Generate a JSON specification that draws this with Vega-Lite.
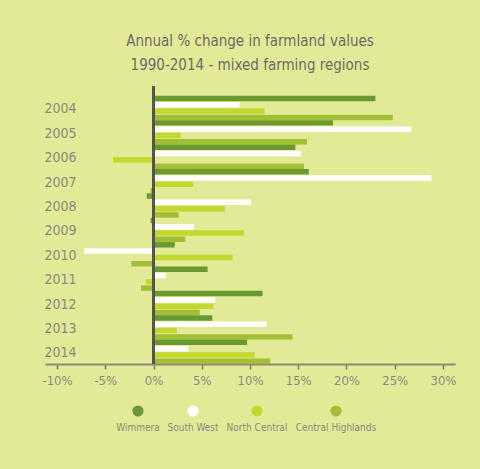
{
  "$schema": "https://vega.github.io/schema/vega-lite/v6.json",
  "autosize": "none",
  "width": 410,
  "height": 278,
  "padding": {"left": 45, "top": 86, "right": 25, "bottom": 105},
  "background": "#e3ea97",
  "config": {"view": {"stroke": null}, "font": "DejaVu Sans Condensed, Roboto Condensed, Liberation Sans Narrow, Roboto"},
  "title": {
    "text": ["Annual % change in farmland values", "1990-2014 - mixed farming regions"],
    "fontSize": 15, "fontWeight": "normal", "color": "#6b6b68", "anchor": "middle", "offset": 12, "lineHeight": 24
  },
  "data": {"values": [
    {"year": "2004", "region": "Wimmera", "value": 23.0},
    {"year": "2004", "region": "South West", "value": 8.9},
    {"year": "2004", "region": "North Central", "value": 11.5},
    {"year": "2004", "region": "Central Highlands", "value": 24.8},
    {"year": "2005", "region": "Wimmera", "value": 18.6},
    {"year": "2005", "region": "South West", "value": 26.7},
    {"year": "2005", "region": "North Central", "value": 2.8},
    {"year": "2005", "region": "Central Highlands", "value": 15.9},
    {"year": "2006", "region": "Wimmera", "value": 14.7},
    {"year": "2006", "region": "South West", "value": 15.3},
    {"year": "2006", "region": "North Central", "value": -4.2},
    {"year": "2006", "region": "Central Highlands", "value": 15.6},
    {"year": "2007", "region": "Wimmera", "value": 16.1},
    {"year": "2007", "region": "South West", "value": 28.8},
    {"year": "2007", "region": "North Central", "value": 4.1},
    {"year": "2007", "region": "Central Highlands", "value": -0.3},
    {"year": "2008", "region": "Wimmera", "value": -0.7},
    {"year": "2008", "region": "South West", "value": 10.1},
    {"year": "2008", "region": "North Central", "value": 7.4},
    {"year": "2008", "region": "Central Highlands", "value": 2.6},
    {"year": "2009", "region": "Wimmera", "value": -0.3},
    {"year": "2009", "region": "South West", "value": 4.2},
    {"year": "2009", "region": "North Central", "value": 9.4},
    {"year": "2009", "region": "Central Highlands", "value": 3.3},
    {"year": "2010", "region": "Wimmera", "value": 2.2},
    {"year": "2010", "region": "South West", "value": -7.2},
    {"year": "2010", "region": "North Central", "value": 8.2},
    {"year": "2010", "region": "Central Highlands", "value": -2.3},
    {"year": "2011", "region": "Wimmera", "value": 5.6},
    {"year": "2011", "region": "South West", "value": 1.3},
    {"year": "2011", "region": "North Central", "value": -0.8},
    {"year": "2011", "region": "Central Highlands", "value": -1.3},
    {"year": "2012", "region": "Wimmera", "value": 11.3},
    {"year": "2012", "region": "South West", "value": 6.4},
    {"year": "2012", "region": "North Central", "value": 6.2},
    {"year": "2012", "region": "Central Highlands", "value": 4.8},
    {"year": "2013", "region": "Wimmera", "value": 6.1},
    {"year": "2013", "region": "South West", "value": 11.7},
    {"year": "2013", "region": "North Central", "value": 2.4},
    {"year": "2013", "region": "Central Highlands", "value": 14.4},
    {"year": "2014", "region": "Wimmera", "value": 9.7},
    {"year": "2014", "region": "South West", "value": 3.6},
    {"year": "2014", "region": "North Central", "value": 10.5},
    {"year": "2014", "region": "Central Highlands", "value": 12.1}
  ]},
  "layer": [
    {
      "mark": {"type": "bar", "opacity": 1},
      "encoding": {
        "y": {
          "field": "year", "type": "nominal",
          "scale": {"paddingInner": 0, "paddingOuter": 0.2, "align": 1},
          "axis": {"title": null, "domain": false, "ticks": false, "labelFontSize": 14, "labelColor": "#8a8b7c", "labelAlign": "center", "labelPadding": -15, "labelOffset": 1.5}
        },
        "yOffset": {
          "field": "region", "type": "nominal",
          "sort": ["Wimmera", "South West", "North Central", "Central Highlands"],
          "scale": {"paddingInner": 0.13}
        },
        "x": {
          "field": "value", "type": "quantitative",
          "scale": {"domain": [-11.25, 31.25], "nice": false, "zero": false},
          "axis": {
            "title": null, "grid": false, "values": [-10, -5, 0, 5, 10, 15, 20, 25, 30],
            "labelExpr": "datum.value + '%'", "labelFontSize": 13, "labelColor": "#8a8b7c",
            "domainColor": "#8a8a80", "domainWidth": 2, "tickColor": "#7a7a72", "tickSize": 5, "tickWidth": 1.5, "labelPadding": 5
          }
        },
        "color": {
          "field": "region", "type": "nominal",
          "scale": {
            "domain": ["Wimmera", "South West", "North Central", "Central Highlands"],
            "range": ["#6a9a2f", "#ffffff", "#c2d82e", "#a2be35"]
          },
          "legend": {
            "title": null, "orient": "none", "legendX": 87, "legendY": 319, "direction": "horizontal",
            "symbolType": "circle", "symbolSize": 125, "symbolOpacity": 1, "symbolStrokeWidth": 0,
            "labelAlign": "center", "labelBaseline": "top", "labelOffset": -6,
            "labelExpr": "['', datum.label]", "labelFontSize": 10, "labelColor": "#8a8b7c", "columnPadding": 7
          }
        }
      }
    },
    {
      "mark": {"type": "rule", "color": "#555550", "strokeWidth": 1.5},
      "encoding": {"x": {"datum": 0}}
    }
  ]
}
